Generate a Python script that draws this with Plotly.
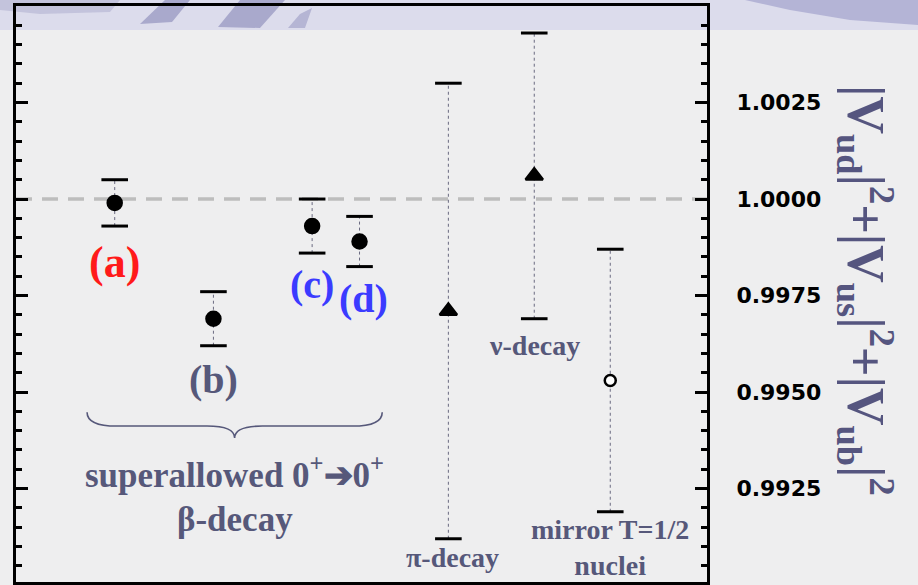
import plotly.graph_objects as go

# ---------------- data ----------------
labels = ["(a)", "(b)", "(c)", "(d)", "π-decay", "ν-decay", "mirror T=1/2<br>nuclei"]
x_pos = [1.0, 2.0, 3.0, 3.48, 4.38, 5.25, 6.02]
values = [0.9999, 0.9969, 0.9993, 0.9989, 0.9971, 1.0006, 0.9953]
errors = [0.0006, 0.0007, 0.0007, 0.00065, 0.0059, 0.0037, 0.0034]
symbols = ["circle", "circle", "circle", "circle", "triangle-up", "triangle-up", "circle"]
fills = ["black", "black", "black", "black", "black", "black", "white"]
sizes = [14, 14, 14, 14, 15, 15, 11]
label_colors = ["#ff1a1a", "#56587a", "#3b3bff", "#3b3bff", "#56587a", "#56587a", "#56587a"]
label_sizes = [44, 40, 40, 40, 28, 28, 28]
y_ticks = [0.9925, 0.9950, 0.9975, 1.0000, 1.0025]
y_tick_labels = ["0.9925", "0.9950", "0.9975", "1.0000", "1.0025"]
unitarity = 1.0

W, H = 918, 585
ML, MR, MT, MB = 16, 211, 6, 3
X_RANGE = [0, 7]
Y_RANGE = [0.99008, 1.0050]

fig = go.Figure()

# error bar stems (thin dotted)
sx, sy = [], []
for x, v, e in zip(x_pos, values, errors):
    sx += [x, x, None]
    sy += [v - e, v + e, None]
fig.add_trace(go.Scatter(x=sx, y=sy, mode="lines",
                         line=dict(color="#6a6a80", width=1, dash="dot"),
                         hoverinfo="skip", showlegend=False))

# caps
cx, cy = [], []
for x, v, e in zip(x_pos, values, errors):
    cx += [x, x]
    cy += [v - e, v + e]
fig.add_trace(go.Scatter(x=cx, y=cy, mode="markers",
                         marker=dict(symbol="line-ew", size=19, opacity=1,
                                     line=dict(color="black", width=3)),
                         hoverinfo="skip", showlegend=False))

# central values
fig.add_trace(go.Scatter(x=x_pos, y=values, mode="markers",
                         marker=dict(symbol=symbols, size=sizes, color=fills, opacity=1,
                                     line=dict(color="black", width=2.5)),
                         showlegend=False))

# ---------------- background decoration (slide template) ----------------
def px(X):
    return (X - ML) / (W - ML - MR)

def py(Y):
    return (H - MB - Y) / (H - MT - MB)

shapes = []
shapes.append(dict(type="rect", xref="paper", yref="paper", layer="below",
                   x0=px(0), x1=px(W), y0=py(30), y1=py(0),
                   fillcolor="#dcdcec", line=dict(width=0)))
def poly(pts, color):
    d = "M " + " L ".join(f"{px(a):.4f},{py(b):.4f}" for a, b in pts) + " Z"
    return dict(type="path", xref="paper", yref="paper", layer="below",
                path=d, fillcolor=color, line=dict(width=0))
shapes.append(poly([(0, 0), (120, 0), (110, 12), (40, 14), (0, 10)], "#c3c3dc"))
shapes.append(poly([(165, 0), (190, 0), (172, 22), (140, 24)], "#a9a9cc"))
shapes.append(poly([(240, 0), (285, 0), (260, 28), (218, 27)], "#a9a9cc"))
shapes.append(poly([(300, 14), (312, 8), (305, 28), (288, 28)], "#b5b5d4"))
shapes.append(poly([(745, 0), (918, 0), (918, 25), (850, 20), (790, 10)], "#b4b4d6"))

# dashed unitarity line
shapes.append(dict(type="line", xref="x domain", yref="y", layer="below",
                   x0=0, x1=1, y0=unitarity, y1=unitarity,
                   line=dict(color="#bdbdbd", width=3.5, dash="16px,10px")))

# brace under superallowed group
bl = x_pos[0] - 0.28
br = x_pos[3] + 0.23
bm = (bl + br) / 2
yt, yh, yb = 0.99448, 0.99412, 0.99381
brace = (f"M {bl},{yt} Q {bl},{yh} {bl+0.3},{yh} L {bm-0.28},{yh} "
         f"Q {bm},{yh} {bm},{yb} Q {bm},{yh} {bm+0.28},{yh} "
         f"L {br-0.3},{yh} Q {br},{yh} {br},{yt}")
shapes.append(dict(type="path", xref="x", yref="y", path=brace,
                   line=dict(color="#56587a", width=1.6)))

# ---------------- annotations ----------------
ann = []
offsets = [0.00095, 0.00088, 0.00082, 0.00082, 0.00048, 0.0007, 0.00092]
xshift = [0, 0, 0, 4, 4, 0, 0]
for i, lab in enumerate(labels):
    ann.append(dict(x=x_pos[i], y=values[i] - errors[i] - offsets[i],
                    xref="x", yref="y", text=f"<b>{lab}</b>", showarrow=False,
                    xanchor="center", yanchor="middle", xshift=xshift[i],
                    font=dict(family="Liberation Serif", size=label_sizes[i],
                              color=label_colors[i])))

ann.append(dict(x=bm, y=yb - 0.00090, xref="x", yref="y", showarrow=False,
                text="<b>superallowed 0<sup>+</sup>➔0<sup>+</sup></b>",
                xanchor="center", yanchor="middle",
                font=dict(family="Liberation Serif", size=35, color="#56587a")))
ann.append(dict(x=bm, y=yb - 0.00212, xref="x", yref="y", showarrow=False,
                text="<b>β-decay</b>", xanchor="center", yanchor="middle",
                font=dict(family="Liberation Serif", size=35, color="#56587a")))

ann.append(dict(x=px(866), y=py(290), xref="paper", yref="paper", showarrow=False,
                textangle=90, xanchor="center", yanchor="middle",
                text=("<b>|V<sub>ud</sub>|<sup>2</sup>+|V<sub>us</sub>|<sup>2</sup>"
                      "+|V<sub>ub</sub>|<sup>2</sup></b>"),
                font=dict(family="Liberation Serif", size=52, color="#55557f")))

fig.update_layout(
    width=W, height=H,
    margin=dict(l=ML, r=MR, t=MT, b=MB, pad=0),
    paper_bgcolor="#eeeeef",
    plot_bgcolor="rgba(0,0,0,0)",
    shapes=shapes,
    annotations=ann,
    showlegend=False,
    xaxis=dict(range=X_RANGE, showticklabels=False, ticks="", showgrid=False,
               zeroline=False, showline=True, linecolor="black", linewidth=3,
               mirror=True, fixedrange=True),
    yaxis=dict(range=Y_RANGE, side="right", tickvals=y_ticks, ticktext=y_tick_labels,
               ticks="inside", ticklen=12, tickwidth=2.5, tickcolor="black",
               minor=dict(dtick=0.0005, ticks="inside", ticklen=6, tickwidth=2.5,
                          tickcolor="black", showgrid=False),
               showgrid=False, zeroline=False, showline=True, linecolor="black",
               linewidth=3, mirror="ticks", ticklabelstandoff=22,
               tickfont=dict(family="DejaVu Sans", size=22, color="black", weight="bold"),
               fixedrange=True),
)

fig.write_html("out.html")
